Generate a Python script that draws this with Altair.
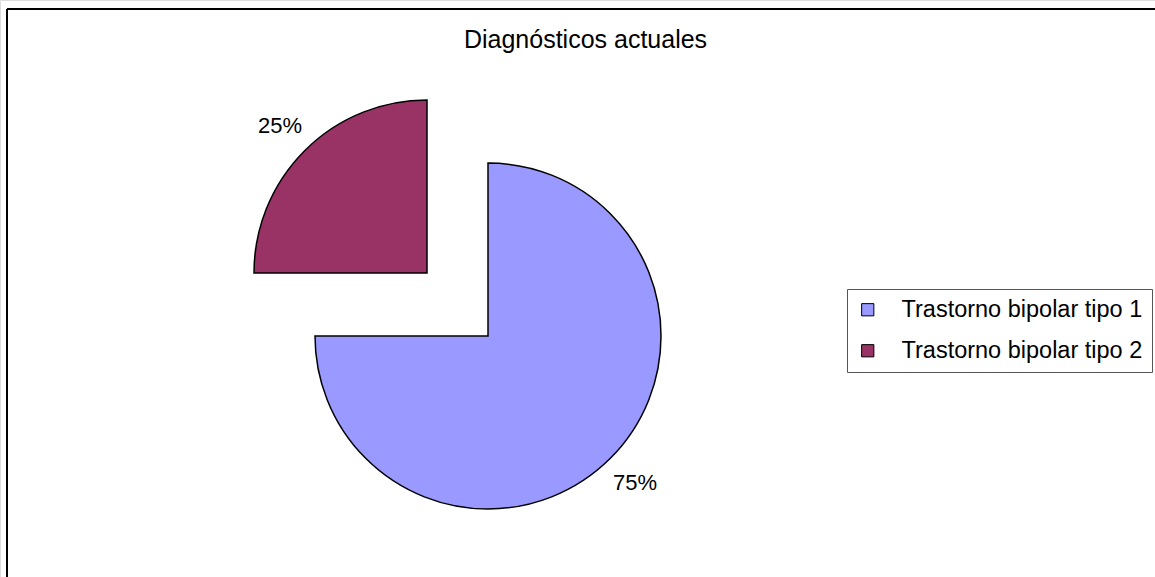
import math
import altair as alt
import pandas as pd

# ---- data ----
categories = ["Trastorno bipolar tipo 1", "Trastorno bipolar tipo 2"]
values = [75, 25]
labels = ["75%", "25%"]
colors = ["#9999FF", "#993366"]

df = pd.DataFrame({"cat": categories, "pct": values, "label": labels})

W, H = 1155, 577
FONT = "Liberation Sans"
R = 173
theta_scale = alt.Scale(domain=[0, 100], range=[0, 2 * math.pi])

base = (
    alt.Chart(df)
    .transform_window(end="sum(pct)", frame=[None, 0])
    .transform_calculate(start="datum.end - datum.pct",
                         mid="datum.end - datum.pct / 2")
)

color_enc = alt.Color(
    "cat:N",
    scale=alt.Scale(domain=categories, range=colors),
    legend=alt.Legend(
        title=None,
        orient="none",
        legendX=847,
        legendY=289,
        direction="vertical",
        symbolType="square",
        symbolSize=150,
        symbolStrokeColor="black",
        symbolStrokeWidth=1,
        symbolOpacity=1,
        labelFont=FONT,
        labelFontSize=23.5,
        labelColor="black",
        labelOffset=22,
        rowPadding=16,
        padding=9,
        strokeColor="#555555",
        fillColor="white",
        labelLimit=400,
    ),
)

# slice centers (exploded second slice)
centers = {categories[0]: (488, 336), categories[1]: (427, 273)}

layers = []
for cat in categories:
    cx, cy = centers[cat]
    part = base.transform_filter(alt.datum.cat == cat)
    arc = part.mark_arc(outerRadius=R, stroke="black", strokeWidth=1.5).encode(
        theta=alt.Theta("start:Q", scale=theta_scale),
        theta2="end:Q",
        color=color_enc,
        x=alt.value(cx),
        y=alt.value(cy),
    )
    txt = part.mark_text(radius=208, font=FONT, fontSize=22, color="black",
                         align="center", baseline="middle").encode(
        theta=alt.Theta("mid:Q", scale=theta_scale),
        text="label:N",
        x=alt.value(cx),
        y=alt.value(cy),
    )
    layers += [arc, txt]

border_top = alt.Chart(df).mark_rule(color="black", strokeWidth=2).encode(
    x=alt.value(7), x2=alt.value(W), y=alt.value(9)
)
border_left = alt.Chart(df).mark_rule(color="black", strokeWidth=2).encode(
    x=alt.value(7), y=alt.value(9), y2=alt.value(H)
)

chart = (
    alt.layer(border_top, border_left, *layers)
    .resolve_scale(theta="shared")
    .properties(
        width=W,
        height=H,
        autosize=alt.AutoSizeParams(type="none"),
        padding=0,
        title=alt.TitleParams(
            "Diagnósticos actuales",
            anchor="middle",
            font=FONT,
            fontSize=25,
            fontWeight="normal",
            color="black",
            dx=8,
            dy=57,
        ),
    )
    .configure_view(stroke=None)
    .configure(background="white")
)

chart.save("out.html", embed_options={"renderer": "svg", "actions": False})
